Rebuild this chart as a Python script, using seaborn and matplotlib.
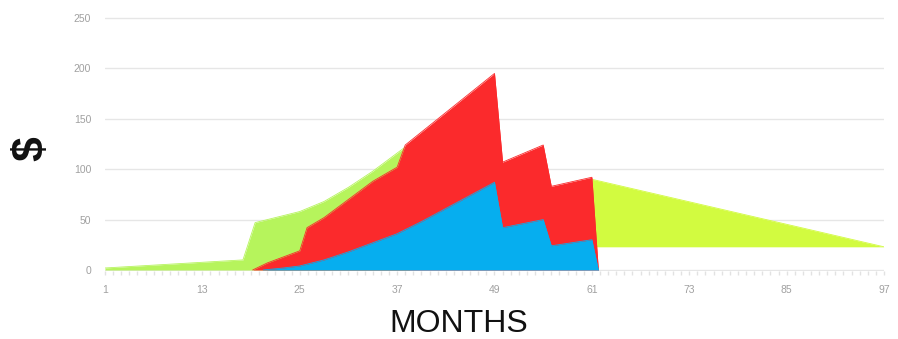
import numpy as np
import pandas as pd
import matplotlib.pyplot as plt
import seaborn as sb

# values
green_months = [1, 18, 19.5, 25, 28, 31, 34, 37, 38, 38.5]
green_values = [2, 10, 47, 58, 68, 82, 98, 116, 122, 0]

tail_months = [61, 97]
tail_values = [90, 23]
tail_floor = 23

red_months = [19.2, 21, 25, 25.9, 28, 31.5, 34, 37, 38, 49, 50, 55, 56, 61, 61.8]
red_values = [0, 7, 19, 42, 52, 73, 88, 102, 124, 195, 107, 124, 83, 92, 0]

blue_months = [20.5, 23, 25, 28, 31, 34, 37, 40, 43, 46, 49, 50, 55, 56, 61, 61.8]
blue_values = [0, 2, 4, 10, 18, 27, 36, 48, 61, 74, 87, 42, 50, 24, 30, 0]

month_ticks = [1, 13, 25, 37, 49, 61, 73, 85, 97]
dollar_ticks = [0, 50, 100, 150, 200, 250]

sb.set_style('white')
plt.rcParams['font.family'] = ['Liberation Sans', 'DejaVu Sans']

fig = plt.figure(figsize=(8.98, 3.39), dpi=100)
ax = fig.add_axes([105 / 898, 68 / 339, 779 / 898, 254 / 339])

tail = pd.DataFrame({'month': tail_months, 'value': tail_values})
sb.lineplot(data=tail, x='month', y='value', color='#d2fb40', linewidth=0.6, ax=ax, zorder=1)
ax.fill_between(tail['month'], tail_floor, tail['value'], color='#d2fb40', linewidth=0, zorder=1)

series = [
    (green_months, green_values, '#b6f45c'),
    (red_months, red_values, '#fb2a2c'),
    (blue_months, blue_values, '#06aeef'),
]
z = 2
for months, values, colour in series:
    df = pd.DataFrame({'month': months, 'value': values})
    ax.fill_between(df['month'], 0, df['value'], color=colour, linewidth=0, zorder=z)
    sb.lineplot(data=df, x='month', y='value', color=colour, linewidth=0.6, ax=ax, zorder=z + 1)
    z += 2

ax.set_xlim(1, 97)
ax.set_ylim(-1, 251)
ax.set_xticks(month_ticks)
ax.set_xticks(np.arange(1, 98), minor=True)
ax.set_yticks(dollar_ticks)
ax.yaxis.grid(True, color='#e6e6e6', linewidth=1)
ax.set_axisbelow(True)
for s in ax.spines.values():
    s.set_visible(False)
ax.tick_params(axis='x', which='both', bottom=True, length=3, width=1, color='#e2e2e2',
               labelsize=7.5, labelcolor='#a0a0a0', pad=7)
ax.tick_params(axis='y', length=0, labelsize=7.5, labelcolor='#a0a0a0', pad=10)
ax.set_xlabel('')
ax.set_ylabel('')

fig.text(0.511, 0.044, 'MONTHS', fontsize=23, ha='center', va='center', color='#111111')
fig.text(0.035, 0.563, '$', fontsize=32, fontweight='bold', rotation=90,
         ha='center', va='center', color='#111111')

fig.savefig('out.png', dpi=100)
